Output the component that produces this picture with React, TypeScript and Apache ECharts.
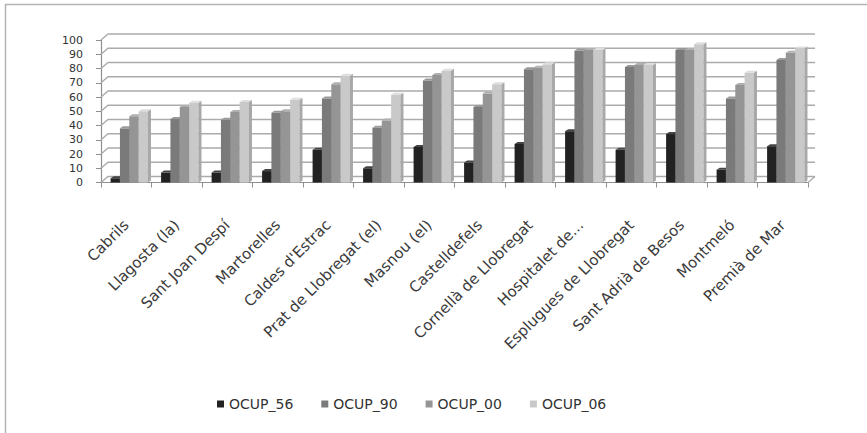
import React, { useEffect, useRef } from "react";
import * as echarts from "echarts";

// Municipalities along the category axis
const categories = [
  "Cabrils",
  "Llagosta (la)",
  "Sant Joan Despí",
  "Martorelles",
  "Caldes d'Estrac",
  "Prat de Llobregat (el)",
  "Masnou (el)",
  "Castelldefels",
  "Cornellà de Llobregat",
  "Hospitalet de Llobregat",
  "Esplugues de Llobregat",
  "Sant Adrià de Besos",
  "Montmeló",
  "Premià de Mar",
];

// Occupation percentages per census year
const ocup56 = [3, 7, 7, 8, 23, 10, 25, 14, 27, 36, 23, 34, 9, 25.5];
const ocup90 = [38, 44.5, 44, 49, 59, 38.5, 71.5, 53, 79.5, 92.5, 81, 93, 59, 86];
const ocup00 = [46.5, 53, 49.5, 50, 69, 43.5, 75.5, 62.5, 80.5, 93, 82.5, 93, 68.5, 91];
const ocup06 = [50, 56, 56.5, 58, 75, 61.5, 78.5, 69, 83, 93, 82.5, 97, 77, 94];

const seriesNames = ["OCUP_56", "OCUP_90", "OCUP_00", "OCUP_06"];
const seriesValues = [ocup56, ocup90, ocup00, ocup06];

// front / side / top face colours of each bar series
const faceColors = [
  { front: "#222222", side: "#111111", top: "#444444" },
  { front: "#7a7a7a", side: "#5e5e5e", top: "#9a9a9a" },
  { front: "#959595", side: "#777777", top: "#b0b0b0" },
  { front: "#c9c9c9", side: "#a8a8a8", top: "#dddddd" },
];

const yTicks = [0, 10, 20, 30, 40, 50, 60, 70, 80, 90, 100];

const FONT = "DejaVu Sans";
const WALL_DX = 7;
const WALL_DY = 6;
const BAR_DX = 3;
const BAR_DY = 2;
const GRID_COLOR = "#ababab";

function barRenderer(k: number) {
  const c = faceColors[k];
  return (params: any, api: any) => {
    const idx = api.value(0);
    const v = api.value(1);
    const band = api.size([1, 0])[0];
    const base = api.coord([idx, 0]);
    const peak = api.coord([idx, v]);
    const w = band * 0.185;
    const x = base[0] - band / 2 + band * 0.19 + k * w;
    const y0 = base[1];
    const y1 = peak[1];
    return {
      type: "group",
      children: [
        {
          type: "rect",
          shape: { x, y: y1, width: w, height: y0 - y1 },
          style: { fill: c.front },
        },
        {
          type: "polygon",
          shape: {
            points: [
              [x + w, y1],
              [x + w + BAR_DX, y1 - BAR_DY],
              [x + w + BAR_DX, y0 - BAR_DY],
              [x + w, y0],
            ],
          },
          style: { fill: c.side },
        },
        {
          type: "polygon",
          shape: {
            points: [
              [x, y1],
              [x + BAR_DX, y1 - BAR_DY],
              [x + w + BAR_DX, y1 - BAR_DY],
              [x + w, y1],
            ],
          },
          style: { fill: c.top },
        },
      ],
    };
  };
}

function wallRenderer(params: any, api: any) {
  const v = api.value(1);
  const cs = params.coordSys;
  const y = api.coord([0, v])[1];
  const left = cs.x;
  const right = cs.x + cs.width;
  const style = { stroke: GRID_COLOR, lineWidth: 1.4, fill: "none" };
  const children: any[] = [
    {
      type: "polyline",
      shape: {
        points: [
          [left, y],
          [left + WALL_DX, y - WALL_DY],
          [right + WALL_DX, y - WALL_DY],
        ],
      },
      style,
    },
  ];
  if (v === 0) {
    children.push({
      type: "line",
      shape: { x1: right, y1: y, x2: right + WALL_DX, y2: y - WALL_DY },
      style,
    });
  }
  return { type: "group", children };
}

export default function App() {
  const ref = useRef<HTMLDivElement>(null);

  useEffect(() => {
    if (!ref.current) return;
    const chart = echarts.init(ref.current, undefined, { renderer: "svg" });

    const barSeries = seriesNames.map((name, k) => ({
      name,
      type: "custom",
      z: 3,
      itemStyle: { color: faceColors[k].front },
      encode: { x: 0, y: 1 },
      data: categories.map((_, i) => [i, seriesValues[k][i]]),
      renderItem: barRenderer(k),
    }));

    chart.setOption({
      animation: false,
      backgroundColor: "#ffffff",
      textStyle: { fontFamily: FONT },
      grid: { left: 101, right: 59, top: 40, bottom: 250.5, containLabel: false },
      legend: {
        data: seriesNames,
        left: 217,
        top: 397,
        padding: 0,
        icon: "rect",
        itemWidth: 7,
        itemHeight: 7,
        itemGap: 28,
        selectedMode: false,
        textStyle: { fontFamily: FONT, fontSize: 14, color: "#333333", width: 80 },
      },
      xAxis: {
        type: "category",
        data: categories,
        boundaryGap: true,
        axisLine: { show: true, lineStyle: { color: "#8f8f8f", width: 1.2 } },
        axisTick: { show: true, interval: 0, length: 5, lineStyle: { color: "#8f8f8f" } },
        splitLine: { show: false },
        axisLabel: {
          interval: 0,
          rotate: 45,
          margin: 40,
          fontFamily: FONT,
          fontSize: 15,
          color: "#3a3a3a",
          formatter: (name: string) =>
            name.length > 22 ? name.slice(0, 13) + "..." : name,
        },
      },
      yAxis: {
        type: "value",
        min: 0,
        max: 100,
        interval: 10,
        axisLine: { show: true, lineStyle: { color: "#8f8f8f", width: 1.2 } },
        axisTick: { show: true, length: 5, lineStyle: { color: "#8f8f8f" } },
        splitLine: { show: false },
        axisLabel: { margin: 18, fontFamily: FONT, fontSize: 11, color: "#333333" },
      },
      graphic: [
        {
          type: "rect",
          silent: true,
          shape: { x: 5.5, y: 4.5, width: 2000, height: 2000 },
          style: { fill: "none", stroke: "#b4b4b4", lineWidth: 1.5 },
        },
      ],
      series: [
        {
          name: "wall",
          type: "custom",
          silent: true,
          z: 1,
          encode: { x: 0, y: 1 },
          data: yTicks.map((t) => [0, t]),
          renderItem: wallRenderer,
        },
        ...barSeries,
      ],
    });

    return () => chart.dispose();
  }, []);

  return (
    <div
      ref={ref}
      style={{ position: "fixed", left: 0, top: 0, width: 867, height: 433, background: "#fff" }}
    />
  );
}
